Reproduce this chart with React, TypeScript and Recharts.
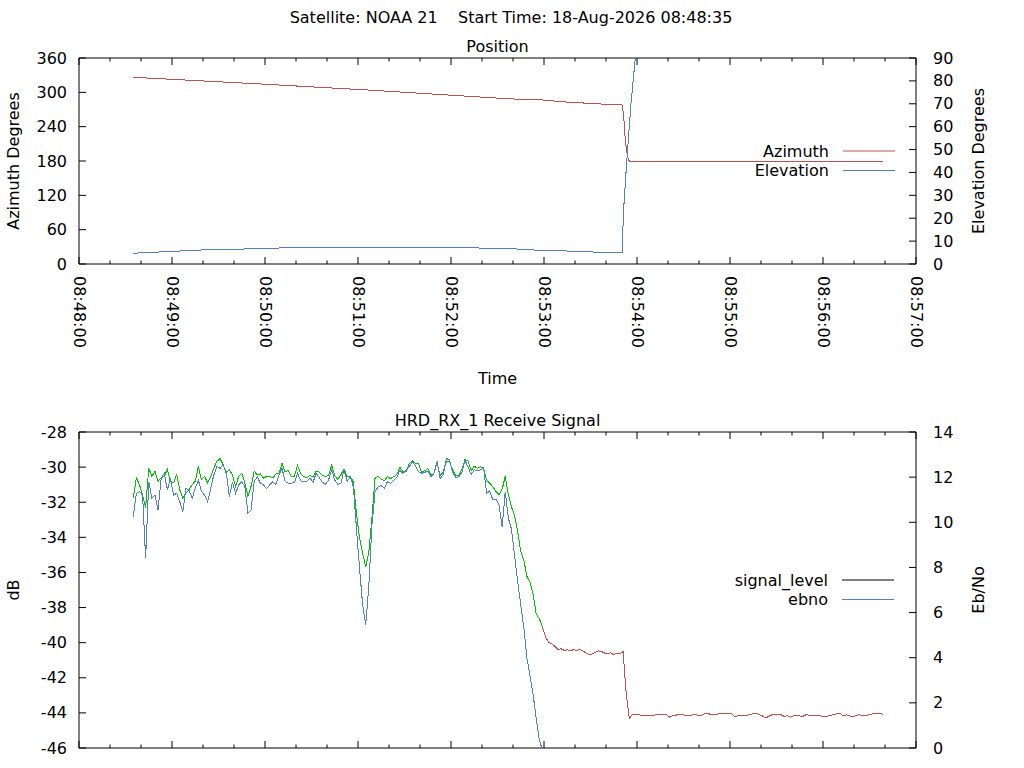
import React from 'react';
import { LineChart, Line, XAxis, YAxis, ReferenceArea, Legend, Label } from 'recharts';

const FONT = '"DejaVu Sans", sans-serif';
const RED = '#c0504d';
const BLUE = '#4f81bd';
const GREEN = '#00c000';

const passTitle = 'Satellite: NOAA 21    Start Time: 18-Aug-2026 08:48:35';

// x axis: major tick labels, minor ticks every 20 s
const timeTickLabels = [
  '08:48:00', '08:49:00', '08:50:00', '08:51:00', '08:52:00',
  '08:53:00', '08:54:00', '08:55:00', '08:56:00', '08:57:00',
];
const minorStepSec = 20;

const azimuthTicks = [0, 60, 120, 180, 240, 300, 360];
const elevationTicks = [0, 10, 20, 30, 40, 50, 60, 70, 80, 90];
const dbTicks = [-46, -44, -42, -40, -38, -36, -34, -32, -30, -28];
const ebnoTicks = [0, 2, 4, 6, 8, 10, 12, 14];

// antenna position, seconds after 08:48:00
const azimuthSec = [35, 121, 186, 279, 294, 314, 337, 349, 350.5, 351.5, 352.5, 353.5, 354.5, 355.5, 518.5];
const azimuthDeg = [326.3, 314.0, 304.1, 288.4, 287.8, 283.1, 279.6, 279.1, 277.5, 255, 215, 195, 181, 179.5, 179.5];

const elevationSec = [35, 57, 78, 100, 121, 157, 235, 279, 294, 314, 333, 350.5, 351.2, 353.3, 356.1, 358.9, 362];
const elevationDeg = [4.7, 5.4, 6.1, 6.4, 6.9, 7.3, 7.3, 6.7, 6.1, 5.7, 5.2, 5.1, 22, 44, 70, 90, 110];

// receiver log: one sample every 2 s from 08:48:35
const signalStartSec = 35;
const signalStepSec = 2;
const lockLostSec = 299;

const signalLevel = [
  -31.76, -30.62, -31.0, -31.57, -32.33, -30.05, -30.53, -30.24, -30.81, -30.62,
  -30.53, -30.15, -30.81, -30.9, -30.43, -31.29, -31.76, -31.48, -31.29, -31.0,
  -30.81, -29.96, -30.72, -30.53, -30.9, -30.53, -30.05, -29.67, -29.52, -29.86,
  -30.34, -30.15, -30.43, -31.1, -30.53, -30.34, -30.9, -31.67, -31.1, -30.24,
  -30.43, -30.39, -30.62, -30.53, -30.53,
  -30.62, -30.39, -30.39, -29.77, -30.28, -30.2, -30.53, -30.53, -29.9, -30.39,
  -30.53, -30.62, -30.47, -30.57, -30.24, -30.28, -30.47, -30.53, -30.47, -29.9,
  -30.49, -30.7, -30.43, -30.09, -30.55, -30.53, -30.85, -32.62, -34.04, -34.9,
  -35.71, -34.8, -32.9, -30.62, -30.53, -30.7, -30.77, -30.55, -30.66, -30.55,
  -30.43, -30.01, -30.24, -30.24, -29.82,
  -29.62, -29.77, -29.77, -30.3, -30.21, -30.09, -30.47, -30.34, -29.77, -30.47,
  -30.28, -29.71, -29.68, -30.15, -30.47, -30.49, -30.13, -29.58, -29.65, -30.21,
  -29.94, -30.07, -29.98, -30.05, -30.77, -30.91, -31.13, -31.38, -31.57, -31.25,
  -30.53, -31.57, -32.27, -32.77, -33.66, -34.8, -35.32, -36.23, -36.55, -37.27,
  -38.37, -38.64, -39.11, -39.68, -39.97,
  -40.06, -40.21, -40.4, -40.35, -40.44, -40.4, -40.46, -40.4, -40.44, -40.4,
  -40.46, -40.59, -40.67, -40.65, -40.55, -40.46, -40.5, -40.59, -40.63, -40.57,
  -40.69, -40.59, -40.65, -40.5, -42.87, -44.3, -44.11, -44.09, -44.11, -44.13,
  -44.13, -44.15, -44.13, -44.13, -44.09, -44.11, -44.11, -44.09, -44.24, -44.17,
  -44.13, -44.09, -44.07, -44.15, -44.17, -44.13, -44.09, -44.13, -44.17,
  -44.07, -44.01, -44.07, -44.11, -44.09, -44.05, -44.03, -44.01, -44.01, -44.03,
  -44.2, -44.17, -44.17, -44.15, -44.13, -44.09, -44.05, -44.01, -44.11, -44.18,
  -44.28, -44.2, -44.11, -44.09, -44.09, -44.11, -44.2, -44.15, -44.26, -44.17,
  -44.13, -44.18, -44.2, -44.11, -44.13, -44.15, -44.17, -44.17, -44.18, -44.2,
  -44.18, -44.13, -44.11, -44.05, -44.01, -44.17, -44.11, -44.17, -44.2, -44.17,
  -44.11, -44.13, -44.17, -44.13, -44.07, -44.05, -44.03, -44.01, -44.13,
];

const ebno = [
  10.25, 11.28, 11.36, 11.21, 8.4, 11.8, 11.06, 11.21, 10.54, 11.95,
  12.17, 11.43, 11.95, 11.21, 11.28, 10.91, 10.47, 11.5, 11.43, 11.06,
  11.5, 11.87, 11.36, 11.21, 10.91, 11.5, 12.1, 12.47, 12.39, 12.54,
  12.24, 11.14, 11.8, 11.28, 11.65, 11.8, 11.58, 10.4, 10.54, 11.8,
  12.02, 11.73, 11.65, 11.5, 11.65,
  11.8, 11.68, 12.1, 12.39, 11.8, 11.73, 11.73, 11.77, 12.17, 11.83,
  11.8, 11.83, 11.95, 11.77, 12.17, 11.98, 11.77, 11.68, 11.87, 12.32,
  11.87, 11.68, 11.73, 12.32, 11.8, 12.02, 11.58, 9.73, 7.96, 6.34,
  5.45, 7.22, 9.88, 11.36, 11.58, 11.62, 11.5, 11.8, 11.73, 11.86,
  11.98, 12.3, 12.17, 12.3, 12.45,
  12.69, 12.51, 12.24, 12.17, 12.21, 12.27, 12.02, 12.17, 12.69, 11.95,
  12.1, 12.83, 12.76, 12.24, 11.99, 12.01, 12.21, 12.76, 12.45, 12.11,
  12.32, 12.3, 12.32, 12.42, 11.28, 11.39, 10.99, 11.02, 10.77, 9.81,
  11.36, 10.18, 9.7, 8.55, 7.37, 6.34, 5.33, 3.97, 3.19, 2.35,
  1.31, 0.35, -0.09,
];

const positionLegend = [
  { name: 'Azimuth', color: RED },
  { name: 'Elevation', color: BLUE },
];
const signalLegend = [
  { name: 'signal_level', color: '#000' },
  { name: 'ebno', color: BLUE },
];

const toSeconds = (hms: string) => {
  const [h, m, s] = hms.split(':').map(Number);
  return h * 3600 + m * 60 + s;
};
const T0 = toSeconds(timeTickLabels[0]);
const majorTicks = timeTickLabels.map((l) => toSeconds(l) - T0);
const allTicks = majorTicks.flatMap((t, i) =>
  i < majorTicks.length - 1 ? [t, t + minorStepSec, t + 2 * minorStepSec] : [t]
);
const timeDomain = [majorTicks[0], majorTicks[majorTicks.length - 1]];

const azimuthData = azimuthSec.map((t, i) => ({ t, v: azimuthDeg[i] }));
const elevationData = elevationSec.map((t, i) => ({ t, v: elevationDeg[i] }));

const signalData = signalLevel.map((v, i) => {
  const t = signalStartSec + i * signalStepSec;
  return {
    t,
    locked: t <= lockLostSec ? v : null,
    unlocked: t >= lockLostSec ? v : null,
    ebno: i < ebno.length ? ebno[i] : null,
  };
});

const textStyle = { fontFamily: FONT, fontSize: 16, fill: '#000' };

const timeTick = (plotHeight: number, showLabel: boolean) => (props: any) => {
  const { x, y, payload } = props;
  const major = payload.value % 60 === 0;
  const len = major ? 7 : 3.5;
  const top = y - plotHeight;
  const ly = y + 12;
  return (
    <g>
      <line x1={x} y1={y} x2={x} y2={y - len} stroke="#000" />
      <line x1={x} y1={top} x2={x} y2={top + len} stroke="#000" />
      {major && showLabel && (
        <text
          x={x}
          y={ly}
          transform={`rotate(90, ${x}, ${ly})`}
          textAnchor="start"
          dominantBaseline="central"
          style={textStyle}
        >
          {timeTickLabels[majorTicks.indexOf(payload.value)]}
        </text>
      )}
    </g>
  );
};

const LeftTick = (props: any) => {
  const { x, y, payload } = props;
  return (
    <g>
      <line x1={x} y1={y} x2={x + 7} y2={y} stroke="#000" />
      <text x={x - 12} y={y} textAnchor="end" dominantBaseline="central" style={textStyle}>
        {payload.value}
      </text>
    </g>
  );
};

const RightTick = (props: any) => {
  const { x, y, payload } = props;
  return (
    <g>
      <line x1={x} y1={y} x2={x - 7} y2={y} stroke="#000" />
      <text x={x + 17} y={y} textAnchor="start" dominantBaseline="central" style={textStyle}>
        {payload.value}
      </text>
    </g>
  );
};

const verticalTitle = (text: string, dx: number) => (props: any) => {
  const { viewBox } = props;
  const cx = viewBox.x + dx;
  const cy = viewBox.y + viewBox.height / 2;
  return (
    <text
      x={cx}
      y={cy}
      transform={`rotate(-90, ${cx}, ${cy})`}
      textAnchor="middle"
      dominantBaseline="central"
      style={textStyle}
    >
      {text}
    </text>
  );
};

const bottomTitle = (text: string, dy: number) => (props: any) => {
  const { viewBox } = props;
  return (
    <text x={viewBox.x + viewBox.width / 2} y={viewBox.y + dy} textAnchor="middle" style={textStyle}>
      {text}
    </text>
  );
};

const LegendBox = ({ entries }: { entries: { name: string; color: string }[] }) => (
  <svg width={200} height={40} style={{ display: 'block' }}>
    {entries.map((e, i) => {
      const y = 10 + i * 19.5;
      return (
        <g key={e.name}>
          <text x={128} y={y} textAnchor="end" dominantBaseline="central" style={textStyle}>
            {e.name}
          </text>
          <line x1={142} x2={194} y1={y} y2={y} stroke={e.color} />
        </g>
      );
    })}
  </svg>
);

const lineProps = {
  type: 'linear' as const,
  dot: false,
  strokeWidth: 1,
  isAnimationActive: false,
  legendType: 'none' as const,
  shapeRendering: 'crispEdges',
};

const PositionChart = () => (
  <LineChart width={1024} height={390} margin={{ top: 58, right: 0, bottom: 0, left: 0 }}>
    <text x={511} y={23} textAnchor="middle" style={{ ...textStyle, whiteSpace: 'pre' }} xmlSpace="preserve">
      {passTitle}
    </text>
    <text x={497.5} y={52} textAnchor="middle" style={textStyle}>
      Position
    </text>
    <XAxis
      type="number"
      dataKey="t"
      domain={timeDomain}
      ticks={allTicks}
      interval={0}
      height={126}
      tickSize={0}
      tickMargin={0}
      tickLine={false}
      axisLine={false}
      tick={timeTick(206, true)}
      label={<Label content={bottomTitle('Time', 120)} />}
    />
    <YAxis
      yAxisId="left"
      domain={[0, 360]}
      ticks={azimuthTicks}
      interval={0}
      width={79}
      tickSize={0}
      tickMargin={0}
      tickLine={false}
      axisLine={false}
      tick={LeftTick}
      label={<Label content={verticalTitle('Azimuth Degrees', 13)} />}
    />
    <YAxis
      yAxisId="right"
      orientation="right"
      domain={[0, 90]}
      allowDataOverflow
      ticks={elevationTicks}
      interval={0}
      width={108}
      tickSize={0}
      tickMargin={0}
      tickLine={false}
      axisLine={false}
      tick={RightTick}
      label={<Label content={verticalTitle('Elevation Degrees', 62)} />}
    />
    <ReferenceArea
      yAxisId="left"
      x1={timeDomain[0]}
      x2={timeDomain[1]}
      y1={0}
      y2={360}
      fill="none"
      stroke="#000"
      strokeWidth={1}
    />
    <Line {...lineProps} yAxisId="left" data={azimuthData} dataKey="v" name="Azimuth" stroke={RED} />
    <Line {...lineProps} yAxisId="right" data={elevationData} dataKey="v" name="Elevation" stroke={BLUE} />
    <Legend
      layout="horizontal"
      verticalAlign="middle"
      align="center"
      wrapperStyle={{ left: 701, top: 141, width: 200, height: 40 }}
      content={() => <LegendBox entries={positionLegend} />}
    />
  </LineChart>
);

const SignalChart = () => (
  <LineChart width={1024} height={378} data={signalData} margin={{ top: 42, right: 0, bottom: 0, left: 0 }}>
    <text x={497.5} y={36} textAnchor="middle" style={textStyle}>
      HRD_RX_1 Receive Signal
    </text>
    <XAxis
      type="number"
      dataKey="t"
      domain={timeDomain}
      ticks={allTicks}
      interval={0}
      height={20}
      tickSize={0}
      tickMargin={0}
      tickLine={false}
      axisLine={false}
      tick={timeTick(316, false)}
    />
    <YAxis
      yAxisId="left"
      domain={[-46, -28]}
      ticks={dbTicks}
      interval={0}
      width={79}
      tickSize={0}
      tickMargin={0}
      tickLine={false}
      axisLine={false}
      tick={LeftTick}
      label={<Label content={verticalTitle('dB', 13)} />}
    />
    <YAxis
      yAxisId="right"
      orientation="right"
      domain={[0, 14]}
      allowDataOverflow
      ticks={ebnoTicks}
      interval={0}
      width={108}
      tickSize={0}
      tickMargin={0}
      tickLine={false}
      axisLine={false}
      tick={RightTick}
      label={<Label content={verticalTitle('Eb/No', 62)} />}
    />
    <ReferenceArea
      yAxisId="left"
      x1={timeDomain[0]}
      x2={timeDomain[1]}
      y1={-46}
      y2={-28}
      fill="none"
      stroke="#000"
      strokeWidth={1}
    />
    <Line {...lineProps} yAxisId="left" dataKey="locked" name="signal_level" stroke={GREEN} />
    <Line {...lineProps} yAxisId="left" dataKey="unlocked" name="signal_level" stroke={RED} />
    <Line {...lineProps} yAxisId="right" dataKey="ebno" name="ebno" stroke={BLUE} />
    <Legend
      layout="horizontal"
      verticalAlign="middle"
      align="center"
      wrapperStyle={{ left: 700, top: 180, width: 200, height: 40 }}
      content={() => <LegendBox entries={signalLegend} />}
    />
  </LineChart>
);

export default function App() {
  return (
    <div
      style={{
        position: 'absolute',
        left: 0,
        top: 0,
        width: 1024,
        height: 768,
        background: '#fff',
        overflow: 'hidden',
      }}
    >
      <div style={{ position: 'absolute', left: 0, top: 0 }}>
        <PositionChart />
      </div>
      <div style={{ position: 'absolute', left: 0, top: 390 }}>
        <SignalChart />
      </div>
    </div>
  );
}
